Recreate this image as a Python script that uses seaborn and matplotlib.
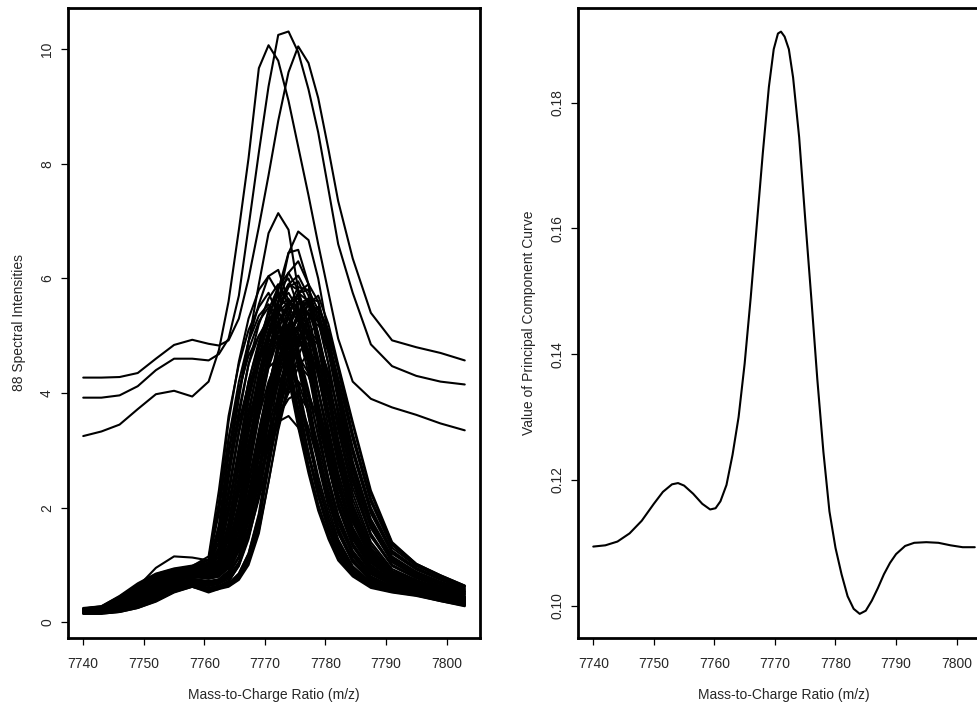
import matplotlib
matplotlib.use('Agg')
import matplotlib.pyplot as plt
import seaborn as sns
import pandas as pd

# m/z sampling positions shared by all spectrum traces (left panel)
mz_grid = [7740.0, 7743.0, 7746.0, 7749.0, 7752.0, 7755.0, 7758.0, 7760.7, 7762.4,
           7764.0, 7765.7, 7767.3, 7769.0, 7770.6, 7772.2, 7773.9, 7775.5, 7777.2,
           7778.8, 7780.5, 7782.1, 7784.5, 7787.5, 7791.0, 7795.0, 7799.0, 7803.0]

# three spectra with raised baseline and tall peaks
spec_a = [4.27, 4.27, 4.28, 4.35, 4.6, 4.84, 4.93, 4.86, 4.83, 4.92, 5.3, 6.0, 6.9, 7.8, 8.75,
          9.6, 10.05, 9.76, 9.15, 8.25, 7.35, 6.35, 5.4, 4.92, 4.8, 4.7, 4.57]
spec_b = [3.92, 3.92, 3.96, 4.12, 4.4, 4.6, 4.6, 4.57, 4.68, 4.95, 5.7, 6.9, 8.2, 9.35, 10.25,
          10.31, 9.95, 9.3, 8.55, 7.55, 6.6, 5.75, 4.85, 4.47, 4.3, 4.2, 4.15]
spec_c = [3.25, 3.33, 3.45, 3.72, 3.98, 4.04, 3.94, 4.2, 4.75, 5.6, 6.85, 8.1, 9.67, 10.07, 9.8,
          9.1, 8.3, 7.45, 6.6, 5.75, 4.95, 4.2, 3.9, 3.75, 3.62, 3.47, 3.35]
spec_d = [0.22, 0.25, 0.4, 0.6, 0.8, 0.9, 0.95, 1.0, 1.5, 2.7, 3.9, 4.9, 5.9, 6.79, 7.14,
          6.85, 5.8, 4.5, 3.4, 2.5, 1.8, 1.15, 0.78, 0.62, 0.55, 0.46, 0.36]

# main bundle of spectra
spec_01 = [0.25, 0.28, 0.45, 0.65, 0.82, 0.92, 0.98, 1.15, 2.3, 3.6, 4.5, 5.1, 5.5, 5.75, 5.35, 4.5, 3.6, 2.75, 2.05, 1.5, 1.12, 0.82, 0.62, 0.54, 0.48, 0.38, 0.3]
spec_02 = [0.22, 0.26, 0.42, 0.62, 0.8, 0.9, 0.95, 1.05, 1.9, 3.2, 4.2, 4.9, 5.35, 5.55, 5.3, 4.6, 3.7, 2.9, 2.2, 1.62, 1.2, 0.86, 0.64, 0.55, 0.49, 0.4, 0.32]
spec_03 = [0.2, 0.25, 0.4, 0.62, 0.95, 1.15, 1.13, 1.08, 1.6, 2.9, 4.0, 4.9, 5.55, 6.04, 6.15, 5.6, 4.6, 3.6, 2.75, 2.0, 1.45, 0.98, 0.7, 0.58, 0.52, 0.44, 0.35]
spec_04 = [0.18, 0.2, 0.35, 0.55, 0.75, 0.88, 0.95, 1.0, 1.4, 2.6, 3.7, 4.5, 5.0, 5.3, 5.45, 5.0, 4.1, 3.2, 2.45, 1.8, 1.3, 0.9, 0.66, 0.56, 0.5, 0.42, 0.33]
spec_05 = [0.24, 0.27, 0.44, 0.66, 0.84, 0.93, 0.97, 1.02, 1.7, 3.0, 4.0, 4.75, 5.25, 5.5, 5.2, 4.4, 3.5, 2.7, 2.05, 1.52, 1.13, 0.83, 0.62, 0.53, 0.47, 0.37, 0.28]
spec_06 = [0.22, 0.25, 0.4, 0.6, 0.78, 0.88, 0.93, 0.97, 1.25, 2.2, 3.3, 4.2, 4.9, 5.4, 5.7, 5.5, 4.8, 3.9, 3.0, 2.25, 1.65, 1.1, 0.76, 0.6, 0.53, 0.44, 0.35]
spec_07 = [0.2, 0.22, 0.36, 0.55, 0.74, 0.86, 0.92, 0.96, 1.15, 1.9, 3.0, 4.0, 4.8, 5.45, 5.85, 6.0, 5.5, 4.6, 3.6, 2.75, 2.05, 1.35, 0.88, 0.66, 0.57, 0.47, 0.37]
spec_08 = [0.2, 0.21, 0.3, 0.45, 0.62, 0.78, 0.86, 0.88, 0.95, 1.1, 1.5, 2.1, 2.7, 3.2, 3.5, 3.6, 3.4, 2.9, 2.35, 1.8, 1.35, 0.92, 0.66, 0.55, 0.48, 0.39, 0.3]
spec_09 = [0.18, 0.19, 0.27, 0.4, 0.56, 0.72, 0.8, 0.82, 0.86, 0.98, 1.3, 1.85, 2.5, 3.1, 3.6, 3.9, 4.0, 3.7, 3.1, 2.4, 1.8, 1.2, 0.8, 0.62, 0.54, 0.44, 0.34]
spec_10 = [0.21, 0.23, 0.38, 0.58, 0.76, 0.87, 0.92, 0.95, 1.1, 1.7, 2.7, 3.7, 4.5, 5.1, 5.5, 5.65, 5.3, 4.5, 3.6, 2.75, 2.05, 1.35, 0.9, 0.68, 0.58, 0.48, 0.38]
spec_11 = [0.2, 0.22, 0.34, 0.52, 0.7, 0.84, 0.9, 0.92, 1.0, 1.45, 2.35, 3.35, 4.25, 4.95, 5.4, 5.6, 5.4, 4.7, 3.85, 3.0, 2.25, 1.5, 0.98, 0.72, 0.6, 0.49, 0.39]
spec_12 = [0.19, 0.21, 0.32, 0.48, 0.66, 0.8, 0.88, 0.9, 0.96, 1.3, 2.05, 3.0, 3.9, 4.7, 5.25, 5.55, 5.5, 4.9, 4.05, 3.2, 2.4, 1.6, 1.04, 0.76, 0.63, 0.51, 0.4]
spec_13 = [0.2, 0.22, 0.33, 0.5, 0.68, 0.82, 0.88, 0.9, 0.97, 1.35, 2.1, 3.1, 4.1, 5.0, 5.8, 6.45, 6.5, 5.9, 4.9, 3.9, 2.95, 1.95, 1.2, 0.82, 0.66, 0.53, 0.42]
spec_14 = [0.19, 0.2, 0.3, 0.46, 0.64, 0.79, 0.86, 0.88, 0.93, 1.15, 1.7, 2.6, 3.6, 4.6, 5.6, 6.44, 6.82, 6.67, 6.0, 5.0, 4.0, 2.75, 1.7, 1.05, 0.8, 0.63, 0.48]
spec_15 = [0.21, 0.23, 0.35, 0.52, 0.7, 0.83, 0.89, 0.9, 0.98, 1.3, 2.0, 3.0, 4.0, 4.9, 5.6, 6.1, 6.3, 5.9, 5.0, 4.0, 3.05, 2.0, 1.25, 0.85, 0.68, 0.55, 0.43]
spec_16 = [0.18, 0.19, 0.28, 0.43, 0.6, 0.76, 0.84, 0.84, 0.9, 1.15, 1.75, 2.65, 3.6, 4.45, 5.1, 5.55, 5.7, 5.35, 4.6, 3.7, 2.85, 1.9, 1.2, 0.82, 0.66, 0.54, 0.42]
spec_17 = [0.17, 0.18, 0.25, 0.38, 0.55, 0.72, 0.8, 0.78, 0.82, 1.0, 1.45, 2.25, 3.2, 4.1, 4.85, 5.4, 5.75, 5.6, 5.0, 4.1, 3.2, 2.15, 1.35, 0.9, 0.72, 0.58, 0.45]
spec_18 = [0.18, 0.19, 0.27, 0.4, 0.57, 0.73, 0.8, 0.76, 0.8, 0.95, 1.35, 2.05, 2.95, 3.85, 4.6, 5.2, 5.6, 5.55, 5.05, 4.25, 3.35, 2.25, 1.4, 0.93, 0.74, 0.6, 0.47]
spec_19 = [0.17, 0.17, 0.22, 0.33, 0.48, 0.64, 0.72, 0.66, 0.7, 0.82, 1.15, 1.8, 2.7, 3.6, 4.45, 5.1, 5.55, 5.65, 5.25, 4.5, 3.65, 2.5, 1.55, 1.0, 0.78, 0.63, 0.5]
spec_20 = [0.16, 0.16, 0.2, 0.3, 0.45, 0.6, 0.68, 0.6, 0.64, 0.68, 0.85, 1.2, 1.9, 2.95, 4.0, 4.8, 5.4, 5.65, 5.6, 4.95, 4.25, 3.2, 2.1, 1.3, 0.98, 0.8, 0.62]
spec_21 = [0.15, 0.15, 0.18, 0.25, 0.36, 0.52, 0.62, 0.55, 0.6, 0.63, 0.76, 1.05, 1.7, 2.8, 3.8, 4.6, 5.2, 5.55, 5.7, 5.2, 4.5, 3.5, 2.3, 1.4, 1.02, 0.82, 0.64]
spec_22 = [0.16, 0.16, 0.2, 0.28, 0.4, 0.56, 0.66, 0.58, 0.62, 0.66, 0.82, 1.15, 1.8, 2.7, 3.6, 4.35, 4.95, 5.3, 5.3, 4.8, 4.1, 3.05, 2.0, 1.25, 0.95, 0.77, 0.6]
spec_23 = [0.17, 0.17, 0.21, 0.31, 0.46, 0.62, 0.7, 0.63, 0.67, 0.75, 1.0, 1.5, 2.3, 3.3, 4.2, 4.9, 5.4, 5.6, 5.4, 4.75, 3.95, 2.8, 1.8, 1.15, 0.88, 0.7, 0.55]
spec_24 = [0.18, 0.18, 0.24, 0.36, 0.52, 0.68, 0.76, 0.72, 0.75, 0.88, 1.25, 1.95, 2.85, 3.75, 4.5, 5.0, 5.3, 5.15, 4.6, 3.85, 3.05, 2.05, 1.3, 0.88, 0.71, 0.58, 0.45]
spec_25 = [0.19, 0.2, 0.3, 0.45, 0.62, 0.77, 0.84, 0.83, 0.88, 1.1, 1.6, 2.45, 3.35, 4.15, 4.75, 5.1, 5.15, 4.75, 4.05, 3.25, 2.5, 1.65, 1.08, 0.78, 0.64, 0.52, 0.41]
spec_26 = [0.2, 0.21, 0.32, 0.48, 0.66, 0.8, 0.87, 0.88, 0.95, 1.25, 1.9, 2.85, 3.75, 4.45, 4.95, 5.2, 5.05, 4.5, 3.7, 2.9, 2.2, 1.45, 0.96, 0.72, 0.6, 0.49, 0.38]
spec_27 = [0.21, 0.23, 0.37, 0.56, 0.74, 0.86, 0.91, 0.93, 1.05, 1.6, 2.5, 3.45, 4.2, 4.75, 5.05, 5.1, 4.75, 4.05, 3.25, 2.5, 1.85, 1.22, 0.84, 0.65, 0.56, 0.46, 0.36]
spec_28 = [0.23, 0.26, 0.42, 0.62, 0.8, 0.9, 0.95, 0.98, 1.3, 2.3, 3.35, 4.2, 4.85, 5.25, 5.4, 5.15, 4.45, 3.6, 2.8, 2.1, 1.55, 1.05, 0.73, 0.6, 0.52, 0.43, 0.34]
spec_29 = [0.2, 0.22, 0.35, 0.53, 0.71, 0.84, 0.9, 0.91, 1.02, 1.5, 2.4, 3.45, 4.35, 5.05, 5.6, 5.9, 5.8, 5.2, 4.3, 3.4, 2.6, 1.75, 1.12, 0.8, 0.65, 0.53, 0.42]
spec_30 = [0.19, 0.2, 0.3, 0.45, 0.63, 0.78, 0.85, 0.85, 0.92, 1.2, 1.85, 2.8, 3.8, 4.7, 5.4, 5.85, 5.95, 5.55, 4.8, 3.9, 3.0, 2.0, 1.25, 0.85, 0.68, 0.55, 0.43]
spec_31 = [0.18, 0.19, 0.26, 0.39, 0.56, 0.72, 0.8, 0.76, 0.8, 0.98, 1.4, 2.15, 3.1, 4.05, 4.9, 5.5, 5.85, 5.8, 5.3, 4.5, 3.6, 2.45, 1.5, 0.98, 0.77, 0.62, 0.49]
spec_32 = [0.17, 0.18, 0.24, 0.36, 0.52, 0.68, 0.76, 0.7, 0.74, 0.88, 1.25, 1.95, 2.9, 3.9, 4.75, 5.35, 5.75, 5.8, 5.45, 4.7, 3.85, 2.65, 1.65, 1.05, 0.82, 0.66, 0.52]
spec_33 = [0.16, 0.16, 0.2, 0.3, 0.44, 0.58, 0.62, 0.52, 0.58, 0.7, 1.0, 1.6, 2.5, 3.5, 4.35, 5.0, 5.4, 5.4, 5.0, 4.25, 3.45, 2.35, 1.5, 1.0, 0.78, 0.63, 0.5]
spec_34 = [0.22, 0.24, 0.38, 0.57, 0.75, 0.86, 0.91, 0.94, 1.08, 1.75, 2.8, 3.85, 4.65, 5.2, 5.6, 5.75, 5.45, 4.7, 3.8, 2.95, 2.2, 1.45, 0.95, 0.7, 0.59, 0.48, 0.38]
spec_35 = [0.2, 0.21, 0.31, 0.47, 0.64, 0.79, 0.86, 0.87, 0.93, 1.2, 1.8, 2.75, 3.7, 4.55, 5.2, 5.6, 5.65, 5.2, 4.45, 3.6, 2.75, 1.8, 1.15, 0.8, 0.65, 0.53, 0.42]
spec_36 = [0.16, 0.16, 0.19, 0.27, 0.39, 0.55, 0.64, 0.56, 0.6, 0.65, 0.8, 1.1, 1.75, 2.7, 3.7, 4.5, 5.1, 5.45, 5.5, 5.05, 4.4, 3.3, 2.15, 1.35, 1.0, 0.8, 0.63]
spec_37 = [0.21, 0.24, 0.38, 0.58, 0.77, 0.88, 0.93, 0.96, 1.2, 2.0, 2.9, 3.6, 4.1, 4.45, 4.6, 4.35, 3.7, 2.95, 2.25, 1.7, 1.25, 0.88, 0.64, 0.55, 0.49, 0.4, 0.32]
spec_38 = [0.19, 0.2, 0.3, 0.46, 0.64, 0.79, 0.86, 0.87, 0.92, 1.2, 1.75, 2.5, 3.2, 3.8, 4.2, 4.4, 4.2, 3.65, 2.95, 2.3, 1.72, 1.18, 0.8, 0.62, 0.54, 0.44, 0.35]
spec_39 = [0.2, 0.22, 0.34, 0.52, 0.7, 0.83, 0.89, 0.9, 0.98, 1.35, 2.0, 2.85, 3.6, 4.2, 4.6, 4.8, 4.6, 4.0, 3.25, 2.5, 1.88, 1.25, 0.85, 0.65, 0.56, 0.46, 0.36]
spec_40 = [0.18, 0.19, 0.27, 0.41, 0.58, 0.74, 0.82, 0.8, 0.84, 1.0, 1.35, 1.95, 2.65, 3.3, 3.85, 4.3, 4.5, 4.3, 3.8, 3.1, 2.45, 1.65, 1.08, 0.78, 0.64, 0.52, 0.41]
spec_41 = [0.19, 0.2, 0.29, 0.44, 0.61, 0.76, 0.83, 0.82, 0.86, 1.05, 1.45, 2.15, 2.95, 3.7, 4.3, 4.7, 4.9, 4.65, 4.05, 3.3, 2.6, 1.75, 1.12, 0.8, 0.66, 0.54, 0.42]
spec_42 = [0.17, 0.17, 0.22, 0.33, 0.48, 0.64, 0.72, 0.66, 0.7, 0.8, 1.05, 1.5, 2.15, 2.85, 3.5, 4.05, 4.45, 4.7, 4.55, 4.1, 3.5, 2.55, 1.65, 1.08, 0.84, 0.68, 0.53]
spec_43 = [0.17, 0.18, 0.23, 0.35, 0.5, 0.66, 0.74, 0.68, 0.72, 0.84, 1.12, 1.65, 2.4, 3.2, 3.9, 4.5, 4.9, 5.1, 4.9, 4.35, 3.7, 2.65, 1.7, 1.1, 0.86, 0.69, 0.54]
spec_44 = [0.23, 0.27, 0.43, 0.64, 0.82, 0.91, 0.96, 1.08, 2.0, 3.2, 4.05, 4.65, 5.0, 5.2, 4.95, 4.25, 3.4, 2.6, 1.95, 1.45, 1.08, 0.8, 0.6, 0.52, 0.46, 0.37, 0.29]
spec_45 = [0.21, 0.24, 0.38, 0.58, 0.77, 0.88, 0.93, 0.97, 1.3, 2.3, 3.3, 4.05, 4.6, 4.9, 5.0, 4.7, 3.95, 3.15, 2.4, 1.8, 1.32, 0.92, 0.66, 0.56, 0.5, 0.41, 0.32]
spec_46 = [0.22, 0.25, 0.4, 0.61, 0.79, 0.89, 0.94, 0.99, 1.4, 2.5, 3.6, 4.5, 5.2, 5.65, 5.9, 5.55, 4.7, 3.75, 2.9, 2.15, 1.58, 1.05, 0.73, 0.59, 0.52, 0.43, 0.34]
spec_47 = [0.2, 0.22, 0.34, 0.52, 0.7, 0.84, 0.9, 0.91, 1.0, 1.45, 2.25, 3.15, 3.95, 4.6, 5.05, 5.3, 5.05, 4.35, 3.5, 2.7, 2.0, 1.32, 0.88, 0.67, 0.57, 0.47, 0.37]
spec_48 = [0.19, 0.2, 0.29, 0.44, 0.61, 0.76, 0.84, 0.83, 0.88, 1.1, 1.6, 2.4, 3.3, 4.1, 4.75, 5.2, 5.45, 5.15, 4.45, 3.6, 2.8, 1.85, 1.18, 0.82, 0.67, 0.54, 0.43]
spec_49 = [0.17, 0.18, 0.24, 0.36, 0.52, 0.68, 0.76, 0.71, 0.75, 0.9, 1.3, 2.0, 2.95, 3.9, 4.75, 5.35, 5.75, 5.9, 5.6, 4.85, 4.0, 2.8, 1.75, 1.1, 0.85, 0.68, 0.53]
spec_50 = [0.16, 0.16, 0.19, 0.27, 0.39, 0.55, 0.64, 0.56, 0.6, 0.64, 0.78, 1.05, 1.6, 2.45, 3.35, 4.1, 4.65, 5.05, 5.2, 4.85, 4.25, 3.25, 2.15, 1.35, 1.0, 0.8, 0.62]
spec_51 = [0.18, 0.19, 0.26, 0.39, 0.55, 0.71, 0.79, 0.77, 0.8, 0.95, 1.28, 1.8, 2.45, 3.05, 3.6, 4.0, 4.2, 4.0, 3.5, 2.85, 2.2, 1.5, 0.98, 0.72, 0.6, 0.49, 0.38]
spec_52 = [0.2, 0.21, 0.31, 0.47, 0.64, 0.79, 0.86, 0.87, 0.93, 1.15, 1.6, 2.25, 2.9, 3.5, 3.9, 4.1, 3.9, 3.4, 2.8, 2.15, 1.6, 1.08, 0.74, 0.6, 0.52, 0.42, 0.33]
spec_53 = [0.22, 0.25, 0.4, 0.6, 0.78, 0.89, 0.94, 0.97, 1.22, 2.05, 3.05, 3.95, 4.6, 5.0, 5.2, 4.9, 4.15, 3.3, 2.55, 1.9, 1.4, 0.96, 0.68, 0.57, 0.51, 0.42, 0.33]
spec_54 = [0.16, 0.16, 0.2, 0.3, 0.44, 0.6, 0.68, 0.6, 0.64, 0.72, 0.98, 1.45, 2.2, 3.1, 3.95, 4.6, 5.0, 4.85, 4.3, 3.55, 2.8, 1.9, 1.22, 0.85, 0.69, 0.56, 0.44]
spec_55 = [0.17, 0.17, 0.22, 0.32, 0.47, 0.63, 0.71, 0.64, 0.68, 0.78, 1.02, 1.5, 2.25, 3.15, 4.0, 4.7, 5.2, 5.4, 5.25, 4.7, 4.05, 2.95, 1.9, 1.2, 0.92, 0.74, 0.58]
spec_56 = [0.19, 0.21, 0.31, 0.47, 0.65, 0.79, 0.86, 0.86, 0.92, 1.2, 1.8, 2.75, 3.75, 4.7, 5.45, 5.9, 6.05, 5.7, 4.95, 4.0, 3.1, 2.05, 1.28, 0.86, 0.69, 0.56, 0.44]
spec_57 = [0.21, 0.23, 0.36, 0.55, 0.73, 0.85, 0.91, 0.92, 1.05, 1.6, 2.55, 3.6, 4.55, 5.3, 5.85, 6.1, 5.8, 5.0, 4.05, 3.15, 2.35, 1.55, 1.0, 0.73, 0.61, 0.5, 0.39]
spec_58 = [0.24, 0.28, 0.46, 0.68, 0.85, 0.94, 0.99, 1.1, 2.1, 3.5, 4.55, 5.3, 5.8, 6.04, 5.75, 4.9, 3.9, 2.95, 2.2, 1.6, 1.18, 0.85, 0.63, 0.54, 0.48, 0.39, 0.31]
spec_59 = [0.23, 0.26, 0.42, 0.62, 0.8, 0.9, 0.95, 1.02, 1.55, 2.6, 3.5, 4.15, 4.6, 4.8, 4.9, 4.5, 3.75, 2.95, 2.25, 1.68, 1.24, 0.87, 0.64, 0.55, 0.49, 0.4, 0.31]
spec_60 = [0.16, 0.16, 0.19, 0.28, 0.41, 0.57, 0.65, 0.57, 0.61, 0.66, 0.85, 1.2, 1.85, 2.75, 3.6, 4.3, 4.8, 5.0, 4.85, 4.35, 3.7, 2.7, 1.75, 1.12, 0.88, 0.71, 0.56]
spec_61 = [0.2, 0.22, 0.35, 0.53, 0.71, 0.84, 0.9, 0.91, 1.02, 1.5, 2.35, 3.3, 4.15, 4.8, 5.25, 5.5, 5.25, 4.5, 3.65, 2.8, 2.1, 1.38, 0.92, 0.69, 0.58, 0.48, 0.37]
spec_62 = [0.17, 0.18, 0.23, 0.34, 0.5, 0.66, 0.74, 0.68, 0.72, 0.85, 1.15, 1.75, 2.6, 3.5, 4.35, 4.95, 5.35, 5.55, 5.4, 4.85, 4.15, 3.0, 1.95, 1.22, 0.93, 0.75, 0.58]
spec_63 = [0.18, 0.19, 0.27, 0.41, 0.58, 0.74, 0.82, 0.8, 0.84, 1.02, 1.45, 2.2, 3.05, 3.9, 4.6, 5.05, 5.3, 5.05, 4.4, 3.6, 2.8, 1.88, 1.2, 0.84, 0.68, 0.55, 0.43]
spec_64 = [0.15, 0.15, 0.18, 0.25, 0.37, 0.53, 0.62, 0.54, 0.58, 0.62, 0.74, 1.0, 1.55, 2.45, 3.4, 4.2, 4.85, 5.3, 5.5, 5.1, 4.45, 3.45, 2.25, 1.38, 1.02, 0.82, 0.64]
spec_65 = [0.19, 0.2, 0.29, 0.44, 0.61, 0.76, 0.84, 0.83, 0.87, 1.08, 1.5, 2.15, 2.9, 3.6, 4.15, 4.55, 4.65, 4.35, 3.75, 3.05, 2.4, 1.6, 1.04, 0.76, 0.63, 0.51, 0.4]
spec_66 = [0.21, 0.24, 0.37, 0.57, 0.75, 0.87, 0.92, 0.95, 1.15, 1.95, 3.0, 3.95, 4.75, 5.25, 5.55, 5.35, 4.6, 3.7, 2.85, 2.15, 1.6, 1.06, 0.74, 0.6, 0.53, 0.44, 0.35]

spectra = [spec_a, spec_b, spec_c, spec_d,
           spec_01, spec_02, spec_03, spec_04, spec_05, spec_06, spec_07, spec_08, spec_09,
           spec_10, spec_11, spec_12, spec_13, spec_14, spec_15, spec_16, spec_17, spec_18,
           spec_19, spec_20, spec_21, spec_22, spec_23, spec_24, spec_25, spec_26, spec_27,
           spec_28, spec_29, spec_30, spec_31, spec_32, spec_33, spec_34, spec_35, spec_36,
           spec_37, spec_38, spec_39, spec_40, spec_41, spec_42, spec_43, spec_44, spec_45,
           spec_46, spec_47, spec_48, spec_49, spec_50, spec_51, spec_52, spec_53, spec_54,
           spec_55, spec_56, spec_57, spec_58, spec_59, spec_60, spec_61, spec_62, spec_63,
           spec_64, spec_65, spec_66]

# principal component curve (right panel)
pc_mz = [7740, 7742, 7744, 7746, 7748, 7750, 7751.5, 7753, 7754, 7755, 7756.5, 7758,
         7759.3, 7760.2, 7761, 7762, 7763, 7764, 7765, 7766, 7767, 7768, 7769, 7769.8,
         7770.5, 7771, 7771.6, 7772.3, 7773, 7774, 7775, 7776, 7777, 7778, 7779, 7780,
         7781, 7782, 7783, 7784, 7785, 7786, 7787, 7788, 7789, 7790, 7791.5, 7793, 7795,
         7797, 7799, 7801, 7803]
pc_value = [0.1094, 0.1096, 0.1102, 0.1115, 0.1135, 0.1162, 0.1181, 0.1193, 0.1195, 0.1191,
            0.1178, 0.1162, 0.1153, 0.1155, 0.1166, 0.1192, 0.1240, 0.1300, 0.1385, 0.1490,
            0.1605, 0.1720, 0.1825, 0.1885, 0.1910, 0.1913, 0.1905, 0.1885, 0.1840, 0.1745,
            0.1615, 0.1490, 0.1360, 0.1245, 0.1150, 0.1092, 0.1050, 0.1015, 0.0995, 0.0987,
            0.0992, 0.1008, 0.1028, 0.1050, 0.1068, 0.1082, 0.1095, 0.1100, 0.1101, 0.1100,
            0.1096, 0.1093, 0.1093]

x_ticks = [7740, 7750, 7760, 7770, 7780, 7790, 7800]
left_ticks = [0, 2, 4, 6, 8, 10]
right_ticks = [0.10, 0.12, 0.14, 0.16, 0.18]

# long-format table for seaborn
rows = []
for i, spec in enumerate(spectra):
    for mz, val in zip(mz_grid, spec):
        rows.append({'spectrum': i, 'mz': mz, 'intensity': val})
df = pd.DataFrame(rows)
pc_df = pd.DataFrame({'mz': pc_mz, 'value': pc_value})

sns.set_style('ticks')
plt.rcParams['font.family'] = ['Liberation Sans', 'DejaVu Sans']

fig = plt.figure(figsize=(9.78, 7.07), dpi=100)
ax1 = fig.add_axes([0.0695, 0.0976, 0.4213, 0.8911])
ax2 = fig.add_axes([0.591, 0.0976, 0.4213, 0.8911])

sns.lineplot(data=df, x='mz', y='intensity', units='spectrum', estimator=None,
             color='black', linewidth=1.5, ax=ax1, legend=False)
sns.lineplot(data=pc_df, x='mz', y='value', color='black', linewidth=1.5, ax=ax2)

ax1.set_xlim(7737.48, 7805.52)
ax1.set_ylim(-0.274, 10.72)
ax2.set_xlim(7737.48, 7805.52)
ax2.set_ylim(0.09486, 0.19506)

ax1.set_yticks(left_ticks)
ax1.set_yticklabels([str(t) for t in left_ticks])
ax2.set_yticks(right_ticks)
ax2.set_yticklabels(['%.2f' % t for t in right_ticks])

for ax in (ax1, ax2):
    ax.set_xticks(x_ticks)
    ax.set_xticklabels([str(t) for t in x_ticks])
    ax.set_xlabel('Mass-to-Charge Ratio (m/z)', fontsize=10, labelpad=12)
    ax.tick_params(axis='both', length=5, width=0.9, labelsize=10, color='black')
    ax.tick_params(axis='x', pad=9)
    ax.tick_params(axis='y', pad=5)
    for lab in ax.get_yticklabels():
        lab.set_rotation(90)
        lab.set_va('center')
    for s in ax.spines.values():
        s.set_linewidth(2)
        s.set_color('black')
    ax.grid(False)

ax1.set_ylabel('88 Spectral Intensities', fontsize=10, labelpad=10)
ax2.set_ylabel('Value of Principal Component Curve', fontsize=10, labelpad=10)

fig.savefig('out.png', dpi=100)
